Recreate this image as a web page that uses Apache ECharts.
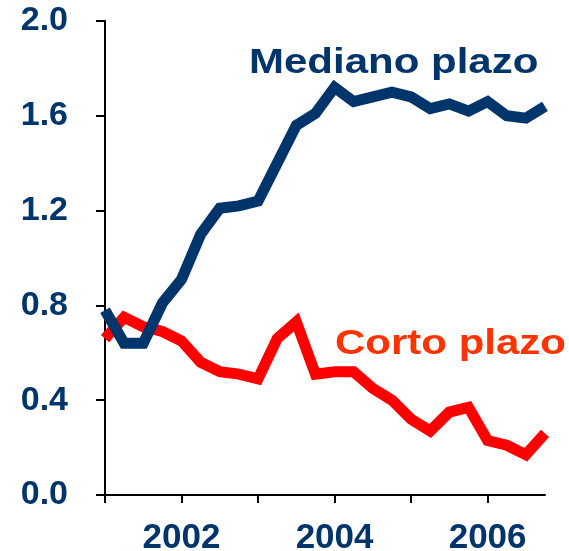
<!DOCTYPE html>
<html>
<head>
<meta charset="utf-8">
<script src="https://cdn.jsdelivr.net/npm/echarts@6/dist/echarts.min.js"></script>
<style>
  html, body { margin: 0; padding: 0; background: #fff; }
  #chart { width: 569px; height: 551px; }
</style>
</head>
<body>
<div id="chart"></div>
<script>
// trimestres 2001T1 .. 2006T4
var quarters = [
  2001.00, 2001.25, 2001.50, 2001.75,
  2002.00, 2002.25, 2002.50, 2002.75,
  2003.00, 2003.25, 2003.50, 2003.75,
  2004.00, 2004.25, 2004.50, 2004.75,
  2005.00, 2005.25, 2005.50, 2005.75,
  2006.00, 2006.25, 2006.50, 2006.75
];
var mediano = [0.78, 0.64, 0.64, 0.81, 0.91, 1.10, 1.21, 1.22, 1.24, 1.40, 1.56, 1.61,
               1.72, 1.66, 1.68, 1.70, 1.68, 1.63, 1.65, 1.62, 1.66, 1.60, 1.59, 1.64];
var corto   = [0.66, 0.75, 0.71, 0.69, 0.65, 0.56, 0.52, 0.51, 0.49, 0.66, 0.73, 0.51,
               0.52, 0.52, 0.45, 0.40, 0.32, 0.27, 0.35, 0.37, 0.23, 0.21, 0.17, 0.26];
var yearLabels = ['2002', '2004', '2006'];

var navy = '#00356b';
var red = '#ff0000';

function pairs(vals) {
  var out = [];
  for (var i = 0; i < vals.length; i++) out.push([quarters[i], vals[i]]);
  return out;
}

var myChart = echarts.init(document.getElementById('chart'));
var option = {
  animation: false,
  grid: { left: 105, right: 24, top: 21, bottom: 56, outerBoundsMode: 'none' },
  xAxis: {
    type: 'value',
    min: 2001, max: 2006.75, interval: 1,
    splitLine: { show: false },
    axisLine: { lineStyle: { color: '#000', width: 2 } },
    axisTick: { show: true, length: 8, lineStyle: { color: '#000', width: 2 } },
    axisLabel: {
      margin: 26,
      color: navy,
      fontFamily: 'Liberation Sans',
      fontWeight: 'bold',
      fontSize: 35,
      showMaxLabel: false,
      formatter: function (v) {
        var s = String(Math.round(v));
        return yearLabels.indexOf(s) >= 0 ? s : '';
      }
    }
  },
  yAxis: {
    type: 'value',
    min: 0, max: 2, interval: 0.4,
    splitLine: { show: false },
    axisLine: { show: true, lineStyle: { color: '#000', width: 2 } },
    axisTick: { show: true, length: 9, lineStyle: { color: '#000', width: 2 } },
    axisLabel: {
      margin: 37,
      padding: [5, 0, 0, 0],
      color: navy,
      fontFamily: 'Liberation Sans',
      fontWeight: 'bold',
      fontSize: 34,
      formatter: function (v) { return v.toFixed(1); }
    }
  },
  series: [
    {
      name: 'Corto plazo',
      type: 'line',
      data: pairs(corto),
      symbol: 'none',
      lineStyle: { color: red, width: 11, join: 'miter' }
    },
    {
      name: 'Mediano plazo',
      type: 'line',
      data: pairs(mediano),
      symbol: 'none',
      lineStyle: { color: navy, width: 11, join: 'miter' }
    }
  ],
  graphic: [
    {
      type: 'text', x: 249, y: 63, scaleX: 1.2,
      style: {
        text: 'Mediano plazo', x: 0, y: 0,
        font: 'bold 35px "Liberation Sans"', fill: navy,
        textAlign: 'left', textVerticalAlign: 'middle'
      }
    },
    {
      type: 'text', x: 335, y: 344, scaleX: 1.2,
      style: {
        text: 'Corto plazo', x: 0, y: 0,
        font: 'bold 35px "Liberation Sans"', fill: '#ff3300',
        textAlign: 'left', textVerticalAlign: 'middle'
      }
    }
  ]
};
myChart.setOption(option);
</script>
</body>
</html>
